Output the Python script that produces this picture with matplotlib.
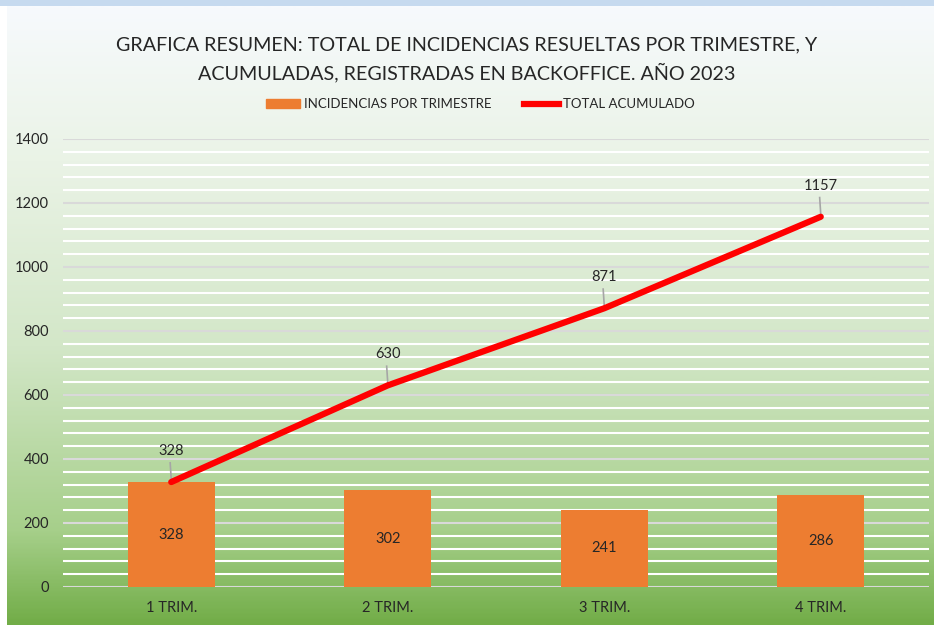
import matplotlib.pyplot as plt
import numpy as np
from matplotlib.colors import LinearSegmentedColormap
from matplotlib.ticker import MultipleLocator
from matplotlib.patches import Patch
from matplotlib.lines import Line2D

# Data
trimestres = ["1 TRIM.", "2 TRIM.", "3 TRIM.", "4 TRIM."]
incidencias = [328, 302, 241, 286]
acumulado = [328, 630, 871, 1157]

W, H = 934, 640
plt.rcParams["font.family"] = ["Lato", "DejaVu Sans"]
fig = plt.figure(figsize=(W / 100, H / 100), dpi=100)
fig.patch.set_facecolor("white")

# Blue strip on top
strip = fig.add_axes([0, 1 - 6 / H, 1, 6 / H])
strip.set_facecolor("#c6daef")
strip.set_xticks([])
strip.set_yticks([])
for s in strip.spines.values():
    s.set_visible(False)

# Gradient background of the chart area
bg = fig.add_axes([7 / W, 1 - 625 / H, 1 - 7 / W, (625 - 6) / H])
cmap = LinearSegmentedColormap.from_list(
    "bg", [(0.0, "#f7fafd"), (0.25, "#eaf3e6"), (0.55, "#d3e7c8"),
           (0.85, "#a6cf8a"), (1.0, "#72ad48")])
grad = np.linspace(0, 1, 400).reshape(-1, 1)
bg.imshow(grad, aspect="auto", cmap=cmap, extent=[0, 1, 1, 0])
bg.axis("off")

# Main axes
ax = fig.add_axes([63 / W, 1 - 587 / H, (929 - 63) / W, (587 - 139) / H])
ax.set_facecolor("none")
x = np.arange(len(trimestres))

ax.bar(x, incidencias, width=0.4, color="#ed7d31", zorder=3)
ax.plot(x, acumulado, color="#ff0000", linewidth=4.5, solid_capstyle="round", zorder=4)

ax.set_xlim(-0.5, len(trimestres) - 0.5)
ax.set_ylim(0, 1400)
ax.yaxis.set_major_locator(MultipleLocator(200))
ax.yaxis.set_minor_locator(MultipleLocator(40))
ax.grid(which="minor", axis="y", color="white", linewidth=1.5, zorder=1)
ax.grid(which="major", axis="y", color="#d9d9d9", linewidth=1.5, zorder=2)
ax.set_axisbelow(True)
for s in ax.spines.values():
    s.set_visible(False)
ax.tick_params(axis="both", which="both", length=0, labelsize=10.5, colors="#262626")
ax.tick_params(axis="y", pad=10)
ax.tick_params(axis="x", pad=10)
ax.set_xticks(x)
ax.set_xticklabels(trimestres)

# Bar labels
for xi, v in zip(x, incidencias):
    ax.text(xi, v / 2, str(v), ha="center", va="center", fontsize=10.5, color="#262626", zorder=5)

# Line labels with leader lines
for xi, v in zip(x, acumulado):
    ax.plot([xi, xi - 0.005], [v + 8, v + 60], color="#a6a6a6", linewidth=1.2, zorder=3)
    ax.text(xi, v + 75, str(v), ha="center", va="bottom", fontsize=10.5, color="#262626", zorder=5)

# Title
fig.text(0.5, 1 - 45 / H, "GRAFICA RESUMEN: TOTAL DE INCIDENCIAS RESUELTAS POR TRIMESTRE, Y",
         ha="center", va="center", fontsize=14.2, color="#262626")
fig.text(0.5, 1 - 73 / H, "ACUMULADAS, REGISTRADAS EN BACKOFFICE. AÑO 2023",
         ha="center", va="center", fontsize=14.2, color="#262626")

# Legend
handles = [Patch(color="#ed7d31", label="INCIDENCIAS POR TRIMESTRE"),
           Line2D([0], [0], color="#ff0000", linewidth=4.5, label="TOTAL ACUMULADO")]
fig.legend(handles=handles, loc="center", bbox_to_anchor=(480 / W, 1 - 104 / H), ncol=2,
           frameon=False, fontsize=9.5, handlelength=2.6, handleheight=0.6,
           handletextpad=0.3, columnspacing=2.5, labelcolor="#262626")

fig.savefig("out.png", dpi=100)
